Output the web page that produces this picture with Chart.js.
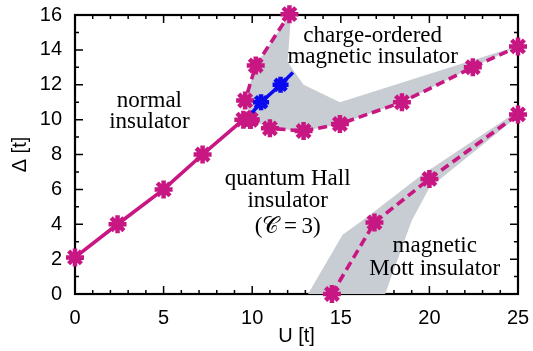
<!DOCTYPE html>
<html>
<head>
<meta charset="utf-8">
<script src="https://cdn.jsdelivr.net/npm/chart.js@4"></script>
<style>
  html, body { margin: 0; padding: 0; background: #fff; }
  #wrap { width: 533px; height: 351px; }
</style>
</head>
<body>
<div id="wrap"><canvas id="phase" width="533" height="351"></canvas></div>
<script>
// phase diagram: U [t] on x, Delta [t] on y
const normalU = [0, 2.4, 5, 7.2, 9.5, 9.9];
const normalD = [2.1, 4, 6, 8, 10, 10];

const upperU = [9.9, 9.6, 10.2, 12.1];
const upperD = [10, 11.1, 13.1, 16.05];

const lowerU = [9.9, 11.0, 12.9, 14.95, 18.45, 22.45, 25];
const lowerD = [10, 9.5, 9.35, 9.75, 11.0, 13.0, 14.2];

const blueU = [10.0, 10.5, 11.6, 12.3];
const blueD = [10.4, 11.0, 12.0, 12.7];

const mottU = [14.5, 16.9, 20.0, 25];
const mottD = [0, 4.1, 6.6, 10.3];

// shaded uncertainty regions (polygon outlines)
const shadeAU = [12.1, 12.15, 12.0, 12.9, 14.95, 24.0, 25, 22.45, 18.45, 14.95, 12.9, 11.0, 9.9, 9.6, 10.2];
const shadeAD = [16.0, 15.4, 13.3, 12.0, 11.0, 13.9, 14.2, 13.0, 11.0, 9.75, 9.35, 9.5, 10, 11.1, 13.1];

const shadeBU = [13.15, 15.1, 16.6, 19.6, 25, 25, 20.0, 19.0, 17.5];
const shadeBD = [0, 3.4, 4.5, 6.85, 10.5, 10.2, 6.1, 4.2, 0];

const normalLabel = ['normal', 'insulator'];
const chargeLabel = ['charge-ordered', 'magnetic insulator'];
const hallLabel = ['quantum Hall', 'insulator', '(\u{1D49E}\u2009=\u20093)'];
const mottLabel = ['magnetic', 'Mott insulator'];

const magenta = 'rgb(200,22,130)';
const blue = 'rgb(10,10,240)';
const shade = 'rgb(200,205,212)';

function pts(us, ds) {
    return us.map((u, i) => ({ x: u, y: ds[i] }));
}

function curve(us, ds, color, dashed, radii) {
    return {
        data: pts(us, ds),
        showLine: true,
        borderColor: color,
        borderWidth: 3.6,
        borderDash: dashed ? [9, 5] : [],
        pointStyle: 'star',
        pointRadius: radii || 9,
        pointBorderWidth: 4.5,
        pointBorderColor: color,
        pointBackgroundColor: color,
        clip: false,
        fill: false
    };
}

function region(us, ds) {
    return {
        data: pts(us, ds),
        showLine: true,
        borderWidth: 0,
        pointRadius: 0,
        backgroundColor: shade,
        fill: 'shape',
        tension: 0
    };
}

const frameTicks = {
    id: 'frameTicks',
    beforeDatasetsDraw(chart) {
        const { ctx, chartArea: { left, right, top, bottom } } = chart;
        const xs = chart.scales.x, ys = chart.scales.y;
        ctx.save();
        ctx.strokeStyle = '#000';
        ctx.lineWidth = 1.5;
        ctx.beginPath();
        for (let u = 0; u <= 25; u++) {
            const len = u % 5 === 0 ? 8 : 4;
            const px = xs.getPixelForValue(u);
            ctx.moveTo(px, bottom); ctx.lineTo(px, bottom - len);
            ctx.moveTo(px, top); ctx.lineTo(px, top + len);
        }
        for (let d = 0; d <= 16; d++) {
            const len = d % 2 === 0 ? 8 : 4;
            const py = ys.getPixelForValue(d);
            ctx.moveTo(left, py); ctx.lineTo(left + len, py);
            ctx.moveTo(right, py); ctx.lineTo(right - len, py);
        }
        ctx.stroke();
        ctx.lineWidth = 2.2;
        ctx.strokeRect(left, top, right - left, bottom - top);
        ctx.restore();
    },
    afterDatasetsDraw(chart) {
        const { ctx } = chart;
        const xs = chart.scales.x, ys = chart.scales.y;
        const put = (lines, u, d, steps) => {
            const cx = xs.getPixelForValue(u);
            const by = ys.getPixelForValue(d);
            lines.forEach((t, i) => ctx.fillText(t, cx, by + steps[i]));
        };
        ctx.save();
        ctx.fillStyle = '#000';
        ctx.font = '23px "Liberation Serif", "DejaVu Serif", serif';
        ctx.textAlign = 'center';
        ctx.textBaseline = 'alphabetic';
        put(normalLabel, 4.2, 10.72, [0, 21]);
        put(chargeLabel, 16.8, 14.45, [0, 21]);
        put(hallLabel, 12.0, 6.25, [0, 22, 48]);
        put(mottLabel, 20.3, 2.4, [0, 23]);
        ctx.restore();
    }
};

new Chart(document.getElementById('phase'), {
    type: 'scatter',
    data: {
        datasets: [
            curve(blueU, blueD, blue, false, [0, 8, 8, 0]),
            curve(normalU, normalD, magenta, false),
            curve(upperU, upperD, magenta, true),
            curve(lowerU, lowerD, magenta, true),
            curve(mottU, mottD, magenta, true),
            region(shadeAU, shadeAD),
            region(shadeBU, shadeBD)
        ]
    },
    options: {
        responsive: false,
        devicePixelRatio: 1,
        animation: false,
        events: [],
        layout: { padding: { top: 15, right: 15, left: 0, bottom: 0 } },
        plugins: {
            legend: { display: false },
            tooltip: { enabled: false }
        },
        scales: {
            x: {
                type: 'linear',
                min: 0,
                max: 25,
                grid: { display: false, drawTicks: false },
                border: { display: false },
                ticks: {
                    stepSize: 5,
                    padding: 12,
                    color: '#000',
                    font: { family: '"Liberation Sans", Arial, sans-serif', size: 20 }
                },
                title: {
                    display: true,
                    text: 'U [t]',
                    color: '#000',
                    padding: { top: 0, bottom: 3 },
                    font: { family: '"Liberation Sans", Arial, sans-serif', size: 20 }
                },
                afterFit: (s) => {
                    s.height = 57;
                    s.paddingLeft = 0;
                    s.paddingRight = 0;
                }
            },
            y: {
                type: 'linear',
                min: 0,
                max: 16,
                grid: { display: false, drawTicks: false },
                border: { display: false },
                ticks: {
                    stepSize: 2,
                    padding: 13,
                    color: '#000',
                    font: { family: '"Liberation Sans", Arial, sans-serif', size: 20 }
                },
                title: {
                    display: true,
                    text: '\u0394 [t]',
                    color: '#000',
                    padding: { top: 8, bottom: 0 },
                    font: { family: '"Liberation Sans", Arial, sans-serif', size: 20 }
                },
                afterFit: (s) => {
                    s.width = 75;
                    s.paddingTop = 0;
                    s.paddingBottom = 0;
                }
            }
        }
    },
    plugins: [frameTicks]
});
</script>
</body>
</html>
